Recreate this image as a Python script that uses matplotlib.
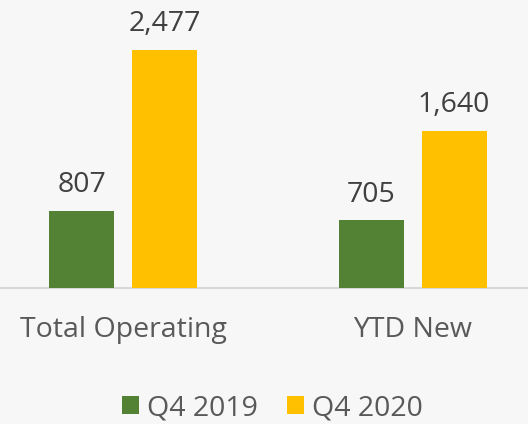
import matplotlib
matplotlib.use("Agg")
import matplotlib.pyplot as plt
from matplotlib.patches import Patch
import numpy as np

categories = ["Total Operating", "YTD New"]
series_names = ["Q4 2019", "Q4 2020"]
q4_2019 = [807, 705]
q4_2020 = [2477, 1640]
value_labels_2019 = ["807", "705"]
value_labels_2020 = ["2,477", "1,640"]

GREEN = "#548235"
YELLOW = "#FFC000"
BG = "#f7f7f7"
TXT = "#595959"
VAL = "#404040"
FONT = "Open Sans"
FS = 20.5

fig = plt.figure(figsize=(5.28, 4.24), dpi=100, facecolor=BG)
ax = fig.add_axes([0, 136 / 424, 1, 288 / 424])
ax.set_facecolor(BG)

x = np.arange(len(categories))
w = 65 / 289.5
off = 83 / 2 / 289.5
b1 = ax.bar(x - off, q4_2019, w, color=GREEN, zorder=3)
b2 = ax.bar(x + off, q4_2020, w, color=YELLOW, zorder=3)

for bars, labels in ((b1, value_labels_2019), (b2, value_labels_2020)):
    for rect, lab in zip(bars, labels):
        ax.annotate(lab, (rect.get_x() + rect.get_width() / 2, rect.get_height()),
                    xytext=(0, 13.5), textcoords="offset points",
                    ha="center", va="baseline", fontsize=FS, color=VAL, family=FONT)

ax.set_xlim((0 - 123) / 289.5, (528 - 123) / 289.5)
ax.set_ylim(0, 3000)
ax.set_yticks([])
ax.set_xticks(x)
ax.set_xticklabels(categories, fontsize=FS, color=TXT, family=FONT)
ax.tick_params(axis="x", length=0, pad=20)
for s in ("top", "right", "left"):
    ax.spines[s].set_visible(False)
ax.spines["bottom"].set_color("#d9d9d9")
ax.spines["bottom"].set_linewidth(1.5)

handles = [Patch(facecolor=GREEN, edgecolor="none"), Patch(facecolor=YELLOW, edgecolor="none")]
leg = fig.legend(handles, series_names, loc="center", bbox_to_anchor=(272.5 / 528, 1 - 408 / 424),
                 ncol=2, frameon=False, prop={"family": FONT, "size": FS},
                 handlelength=0.6, handleheight=0.6, handletextpad=0.3, columnspacing=1.0)
for t in leg.get_texts():
    t.set_color(TXT)

fig.savefig("out.png", dpi=100, facecolor=BG)
